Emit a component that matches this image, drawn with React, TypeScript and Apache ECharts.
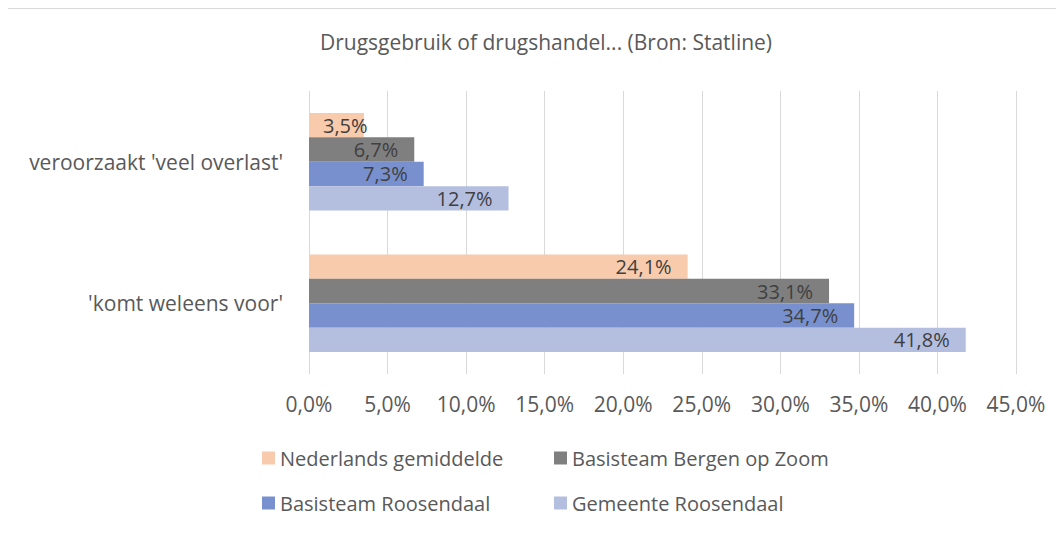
import React, { useEffect, useRef } from "react";
import * as echarts from "echarts";

const categories = ["veroorzaakt 'veel overlast'", "'komt weleens voor'"];
const seriesNames = [
  "Nederlands gemiddelde",
  "Basisteam Bergen op Zoom",
  "Basisteam Roosendaal",
  "Gemeente Roosendaal",
];
const nederlands = [3.5, 24.1];
const bergenOpZoom = [6.7, 33.1];
const basisteamRoosendaal = [7.3, 34.7];
const gemeenteRoosendaal = [12.7, 41.8];
const seriesValues = [nederlands, bergenOpZoom, basisteamRoosendaal, gemeenteRoosendaal];
const colors = ["#F8CBAD", "#7F7F7F", "#7891CE", "#B4BFE0"];
const titleText = "Drugsgebruik of drugshandel... (Bron: Statline)";

const FONT = "'Open Sans', sans-serif";
const fmt = (v: number) => v.toFixed(1).replace(".", ",") + "%";

export default function App() {
  const ref = useRef<HTMLDivElement>(null);
  useEffect(() => {
    if (!ref.current) return;
    const chart = echarts.init(ref.current, null, { renderer: "svg" });
    const legendBase = {
      orient: "vertical",
      top: 434,
      itemWidth: 13,
      itemHeight: 13,
      itemGap: 23,
      itemTextGap: 6,
      icon: "rect",
      textStyle: { fontFamily: FONT, fontSize: 20, color: "#595959", lineHeight: 22 },
    };
    chart.setOption({
      animation: false,
      backgroundColor: "#ffffff",
      title: {
        text: titleText,
        left: 533,
        textAlign: "center",
        top: 18,
        textStyle: { fontFamily: FONT, fontSize: 21, fontWeight: "normal", color: "#595959" },
      },
      graphic: [
        {
          type: "rect",
          shape: { x: 0, y: 0.5, width: 3000, height: 3000 },
          style: { fill: "none", stroke: "#D9D9D9", lineWidth: 1 },
          x: -0.5,
          silent: true,
        },
      ],
      grid: { left: 301, right: 48, top: 83, bottom: 160, containLabel: false },
      legend: [
        { ...legendBase, data: [seriesNames[0], seriesNames[2]], left: 249 },
        { ...legendBase, data: [seriesNames[1], seriesNames[3]], left: 541 },
      ],
      xAxis: {
        type: "value",
        min: 0,
        max: 45,
        interval: 5,
        axisLine: { show: false },
        axisTick: { show: false },
        splitLine: { lineStyle: { color: "#D9D9D9", width: 1 } },
        axisLabel: {
          formatter: (v: number) => fmt(v),
          fontFamily: FONT,
          fontSize: 21,
          color: "#595959",
          margin: 19,
        },
      },
      yAxis: {
        type: "category",
        data: categories,
        inverse: true,
        axisLine: { show: false },
        axisTick: { show: false },
        axisLabel: { fontFamily: FONT, fontSize: 21, color: "#595959", margin: 26 },
      },
      series: seriesNames.map((name, i) => ({
        name,
        type: "bar",
        barGap: "0%",
        barCategoryGap: "31%",
        itemStyle: { color: colors[i] },
        label: {
          show: true,
          position: "insideRight",
          distance: 16,
          formatter: (p: any) => fmt(p.value),
          fontFamily: FONT,
          fontSize: 20,
          color: "#404040",
        },
        data: seriesValues[i].map((v) =>
          v < 5 ? { value: v, label: { position: "insideLeft", distance: 14 } } : v
        ),
      })),
    });
    return () => chart.dispose();
  }, []);
  return <div ref={ref} style={{ width: 1056, height: 526 }} />;
}
